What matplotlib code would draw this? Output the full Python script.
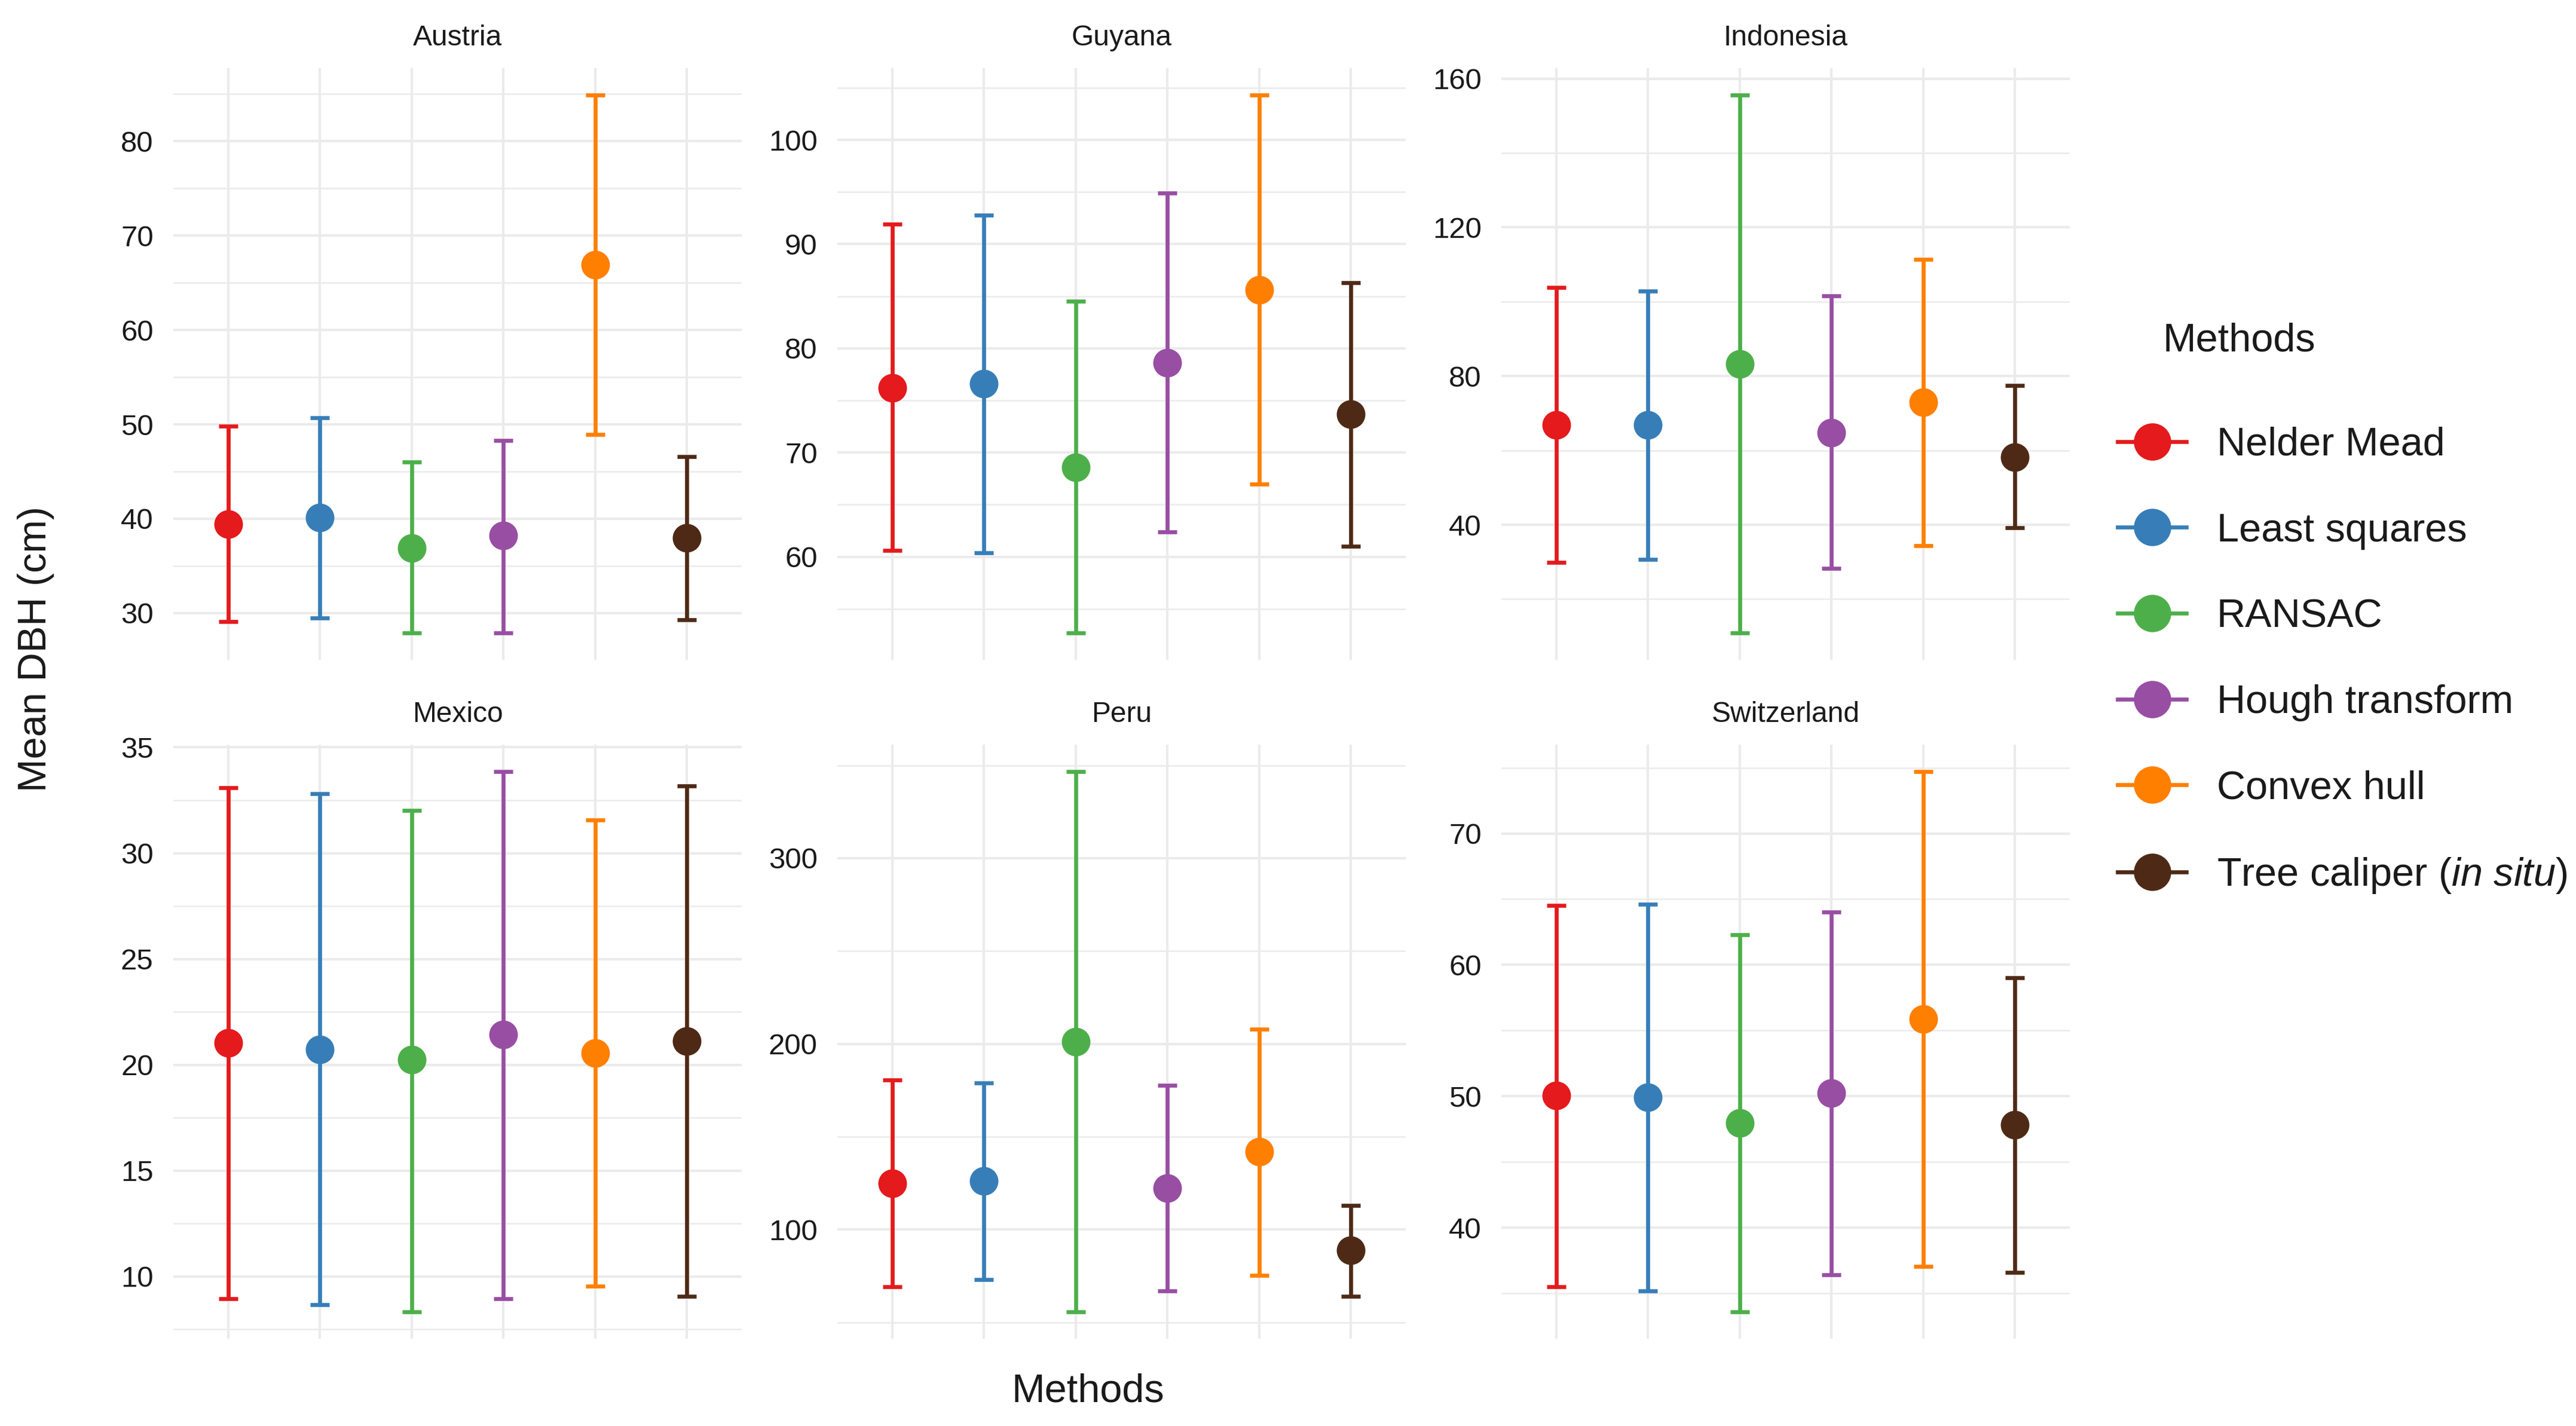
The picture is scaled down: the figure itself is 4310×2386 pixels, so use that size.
import numpy as np
import matplotlib
matplotlib.use("Agg")
import matplotlib.pyplot as plt
from matplotlib.ticker import MultipleLocator
from matplotlib.lines import Line2D

plt.rcParams['font.family'] = ['Liberation Sans', 'DejaVu Sans']
plt.rcParams['mathtext.fontset'] = 'custom'
plt.rcParams['mathtext.rm'] = 'Liberation Sans'
plt.rcParams['mathtext.it'] = 'Liberation Sans:italic'

countries = ["Austria", "Guyana", "Indonesia", "Mexico", "Peru", "Switzerland"]
methods = ["Nelder Mead", "Least squares", "RANSAC", "Hough transform",
           "Convex hull", "Tree caliper ($\\it{in\\ situ}$)"]
colors = ["#E41A1C", "#377EB8", "#4DAF4A", "#984EA3", "#FF7F00", "#4E2A16"]

austria_mean = [39.4, 40.1, 36.9, 38.2, 66.9, 38.0]
austria_low = [29.1, 29.5, 27.9, 27.9, 48.9, 29.3]
austria_high = [49.8, 50.7, 46.0, 48.3, 84.9, 46.6]

guyana_mean = [76.2, 76.6, 68.6, 78.6, 85.6, 73.7]
guyana_low = [60.6, 60.4, 52.7, 62.4, 67.0, 61.0]
guyana_high = [91.9, 92.8, 84.5, 94.9, 104.3, 86.3]

indonesia_mean = [66.9, 66.8, 83.2, 64.8, 72.9, 58.2]
indonesia_low = [29.9, 30.7, 10.9, 28.2, 34.4, 39.2]
indonesia_high = [103.8, 102.9, 155.6, 101.5, 111.4, 77.5]

mexico_mean = [21.04, 20.72, 20.23, 21.42, 20.56, 21.13]
mexico_low = [8.96, 8.67, 8.33, 8.96, 9.53, 9.05]
mexico_high = [33.1, 32.8, 32.03, 33.85, 31.57, 33.19]

peru_mean = [125.0, 126.0, 201.3, 122.4, 142.0, 88.7]
peru_low = [69.1, 72.9, 55.7, 67.0, 75.3, 63.9]
peru_high = [180.7, 178.9, 346.6, 177.6, 208.0, 112.9]

switzerland_mean = [50.04, 49.9, 47.96, 50.25, 55.9, 47.85]
switzerland_low = [35.5, 35.2, 33.6, 36.4, 37.05, 36.6]
switzerland_high = [64.5, 64.6, 62.3, 64.0, 74.7, 59.0]

major_steps = [10, 10, 40, 5, 100, 10]

panel_data = [
    (austria_mean, austria_low, austria_high),
    (guyana_mean, guyana_low, guyana_high),
    (indonesia_mean, indonesia_low, indonesia_high),
    (mexico_mean, mexico_low, mexico_high),
    (peru_mean, peru_low, peru_high),
    (switzerland_mean, switzerland_low, switzerland_high),
]

W, H = 4310, 2386
dpi = 300
fig = plt.figure(figsize=(W / dpi, H / dpi), dpi=dpi)

lefts = [290, 1401, 2512]
pw = 951
tops = [114, 1246]
ph = [990, 994]

grid_col = "#EBEBEB"
x = np.arange(1, len(methods) + 1)

for i, (country, (mean, low, high)) in enumerate(zip(countries, panel_data)):
    r, c = divmod(i, 3)
    l = lefts[c] / W
    b = 1 - (tops[r] + ph[r]) / H
    ax = fig.add_axes([l, b, pw / W, ph[r] / H])
    mean = np.array(mean); low = np.array(low); high = np.array(high)
    for j in range(len(methods)):
        cont = ax.errorbar(x[j], mean[j], yerr=[[mean[j] - low[j]], [high[j] - mean[j]]],
                           fmt='o', color=colors[j], ms=11.5,
                           elinewidth=1.6, capsize=3.75, capthick=1.6, zorder=3)
        cont.lines[0].set_markeredgewidth(0)
    lo, hi = low.min(), high.max()
    rng = hi - lo
    ax.set_ylim(lo - 0.05 * rng, hi + 0.05 * rng)
    ax.set_xlim(0.4, len(methods) + 0.6)
    ax.set_xticks(x)
    ax.set_xticklabels([])
    ax.yaxis.set_major_locator(MultipleLocator(major_steps[i]))
    ax.yaxis.set_minor_locator(MultipleLocator(major_steps[i] / 2))
    ax.grid(which='major', color=grid_col, lw=1.0, zorder=0)
    ax.grid(which='minor', axis='y', color=grid_col, lw=0.6, zorder=0)
    ax.set_axisbelow(True)
    for s in ax.spines.values():
        s.set_visible(False)
    ax.tick_params(which='both', length=0)
    ax.tick_params(axis='y', labelsize=11.8, pad=8, labelcolor='#1a1a1a')
    ax.set_title(country, fontsize=11.5, pad=9, color='#1a1a1a')

fig.text(60 / W, 1 - 1086 / H, "Mean DBH (cm)", rotation=90, ha='center', va='center',
         fontsize=16, color='#1a1a1a')
fig.text(1820 / W, 1 - 2329 / H, "Methods", ha='center', va='center',
         fontsize=16, color='#1a1a1a')

handles = [Line2D([0], [0], color=colors[j], lw=1.6, marker='o', ms=15, mew=0)
           for j in range(len(methods))]
fig.text(3618 / W, 1 - 571 / H, "Methods", ha='left', va='center', fontsize=16,
         color='#1a1a1a')
leg = fig.legend(handles, methods, loc='upper left',
                 bbox_to_anchor=(3543 / W, 1 - 714 / H), frameon=False,
                 fontsize=16, handlelength=1.73, handletextpad=0.76,
                 labelspacing=1.225, borderpad=0, borderaxespad=0)
for t in leg.get_texts():
    t.set_color('#1a1a1a')

fig.savefig("out.png", dpi=dpi, facecolor='white')
